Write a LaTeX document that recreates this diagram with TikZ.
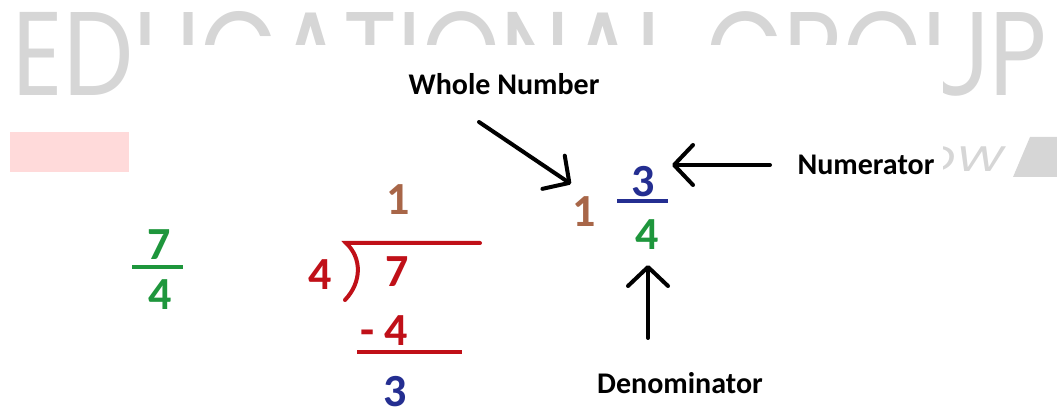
\documentclass[tikz,border=0pt]{standalone}
\usepackage{fontspec}
\setmainfont{Carlito}
\newfontfamily\wmfont{Poppins}
\usepackage{graphicx}
\usepackage{xcolor}
\usetikzlibrary{arrows.meta}
\definecolor{wmGray}{RGB}{214,214,214}
\definecolor{wmPink}{RGB}{255,218,218}
\definecolor{fracGreen}{RGB}{30,150,60}
\definecolor{divRed}{RGB}{192,16,24}
\definecolor{wholeBrown}{RGB}{168,102,72}
\definecolor{numNavy}{RGB}{36,46,145}

\begin{document}
\begin{tikzpicture}[
                x=1pt, y=-1pt,
                lbl/.style={font=\fontsize{30}{36}\selectfont\bfseries, inner sep=0pt, anchor=base},
                digit/.style={font=\fontsize{46}{52}\selectfont\bfseries, inner sep=0pt, anchor=base},
                fracbar/.style={line width=4pt},
                pointer/.style={-{Straight Barb[length=19pt, width=40pt, round]}, line width=4pt, line cap=round}
            ]
                \useasboundingbox (0,0) rectangle (1057,411);

                % Watermark behind the picture
                \node[anchor=south west, inner sep=0pt, text=wmGray] (wm) at (12,97)
                    {\resizebox{1034pt}{84pt}{\wmfont EDUCATIONAL GROUP}};
                \node[anchor=south east, inner sep=0pt, text=wmGray] (wmnow) at (1004,172)
                    {\resizebox{86pt}{25pt}{\wmfont\itshape OW}};
                \fill[wmPink] (10,132) rectangle (129,172);
                \fill[wmGray] (1013,177) -- (1030,137) -- (1057,137) -- (1057,177) -- cycle;
                \fill[white] (133,45) rectangle (943,411);

                % Improper fraction
                \node[digit, text=fracGreen] (ltop) at (159,260) {7};
                \node[digit, text=fracGreen] (lbot) at (160,310) {4};
                \draw[fracbar, fracGreen] (132,267) -- (183,267);

                % Long division
                \node[digit, text=wholeBrown] (quot) at (398,215) {1};
                \node[digit, text=divRed] (divisor) at (320,290) {4};
                \node[digit, text=divRed] (dividend) at (397,287) {7};
                \node[digit, text=divRed] (subtr) at (384,345) {- 4};
                \node[digit, text=numNavy] (remain) at (395,406) {3};
                \draw[fracbar, divRed, line cap=round] (345,300) .. controls (362,282) and (362,258) .. (346,243) -- (480,243);
                \draw[fracbar, divRed] (357,352) -- (462,352);

                % Mixed number
                \node[digit, text=wholeBrown] (mixone) at (584,227) {1};
                \node[digit, text=numNavy] (mixnum) at (643,197) {3};
                \node[digit, text=fracGreen] (mixden) at (647,250) {4};
                \draw[fracbar, numNavy] (617,201) -- (668,201);

                % Labels
                \node[lbl] (whole) at (504,95) {Whole Number};
                \node[lbl] (numer) at (866,175) {Numerator};
                \node[lbl] (denom) at (680,393) {Denominator};

                % Pointers
                \coordinate (wholetail) at (479,122);
                \coordinate (wholetip) at (571,184);
                \coordinate (numertail) at (770,165);
                \coordinate (numertip) at (672,165);
                \coordinate (denomtail) at (648,338);
                \coordinate (denomtip) at (648,265);
                \draw[pointer] (wholetail) -- (wholetip);
                \draw[pointer] (numertail) -- (numertip);
                \draw[pointer] (denomtail) -- (denomtip);
            \end{tikzpicture}
\end{document}
